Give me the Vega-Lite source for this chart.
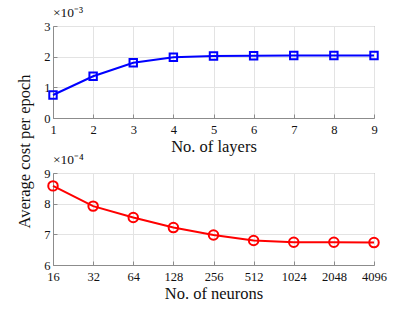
{
  "$schema": "https://vega.github.io/schema/vega-lite/v6.json",
  "padding": {"left": 15, "top": 5, "right": 5, "bottom": 5},
  "spacing": 55,
  "bounds": "flush",
  "config": {
    "font": "Liberation Serif",
    "view": {"stroke": "#8c8c8c", "strokeWidth": 1},
    "axis": {
      "labelFont": "Liberation Serif",
      "titleFont": "Liberation Serif",
      "labelFontSize": 12.5,
      "titleFontSize": 16.5,
      "titleFontWeight": "normal",
      "labelColor": "#111111",
      "titleColor": "#111111",
      "domainColor": "#8c8c8c",
      "tickColor": "#8c8c8c",
      "tickSize": -4,
      "gridColor": "#e3e3e3",
      "grid": true,
      "labelFlush": false
    },
    "axisX": {"labelPadding": 9, "titlePadding": 3},
    "axisY": {"labelPadding": 7},
    "title": {"font": "Liberation Serif", "fontSize": 13.5, "fontWeight": "normal", "anchor": "start", "frame": "group", "offset": 1, "color": "#111111"}
  },
  "vconcat": [
    {
      "width": 321,
      "height": 92,
      "title": {"text": "×10⁻³"},
      "data": {"values": [
        {"layers": 1, "cost": 0.00075},
        {"layers": 2, "cost": 0.00136},
        {"layers": 3, "cost": 0.00180},
        {"layers": 4, "cost": 0.00198},
        {"layers": 5, "cost": 0.00202},
        {"layers": 6, "cost": 0.00203},
        {"layers": 7, "cost": 0.00204},
        {"layers": 8, "cost": 0.00204},
        {"layers": 9, "cost": 0.00204}
      ]},
      "encoding": {
        "x": {"field": "layers", "type": "quantitative", "scale": {"domain": [1, 9], "nice": false},
              "axis": {"title": "No. of layers", "values": [1,2,3,4,5,6,7,8,9]}},
        "y": {"field": "cost", "type": "quantitative", "scale": {"domain": [0, 0.003], "nice": false},
              "axis": {"title": "Average cost per epoch", "values": [0, 0.001, 0.002, 0.003],
                       "labelExpr": "format(datum.value*1000, '~g')",
                       "titleX": -29, "titleY": 125, "titleAnchor": "middle", "titleAlign": "center", "titleBaseline": "middle"}}
      },
      "layer": [
        {"mark": {"type": "line", "color": "#0000ff", "strokeWidth": 2}},
        {"mark": {"type": "point", "shape": "square", "filled": false, "color": "#0000ff", "strokeWidth": 2, "size": 55, "opacity": 1}}
      ]
    },
    {
      "width": 321,
      "height": 92,
      "title": {"text": "×10⁻⁴"},
      "data": {"values": [
        {"neurons": 16, "cost": 0.000858},
        {"neurons": 32, "cost": 0.000792},
        {"neurons": 64, "cost": 0.000755},
        {"neurons": 128, "cost": 0.000722},
        {"neurons": 256, "cost": 0.000698},
        {"neurons": 512, "cost": 0.000680},
        {"neurons": 1024, "cost": 0.000674},
        {"neurons": 2048, "cost": 0.000674},
        {"neurons": 4096, "cost": 0.000673}
      ]},
      "encoding": {
        "x": {"field": "neurons", "type": "quantitative", "scale": {"type": "log", "base": 2, "domain": [16, 4096], "nice": false},
              "axis": {"title": "No. of neurons", "values": [16,32,64,128,256,512,1024,2048,4096], "format": "d"}},
        "y": {"field": "cost", "type": "quantitative", "scale": {"domain": [0.0006, 0.0009], "nice": false},
              "axis": {"title": null, "values": [0.0006, 0.0007, 0.0008, 0.0009],
                       "labelExpr": "format(datum.value*10000, '.0f')"}}
      },
      "layer": [
        {"mark": {"type": "line", "color": "#ff0000", "strokeWidth": 2}},
        {"mark": {"type": "point", "shape": "circle", "filled": false, "color": "#ff0000", "strokeWidth": 2, "size": 90, "opacity": 1}}
      ]
    }
  ]
}
